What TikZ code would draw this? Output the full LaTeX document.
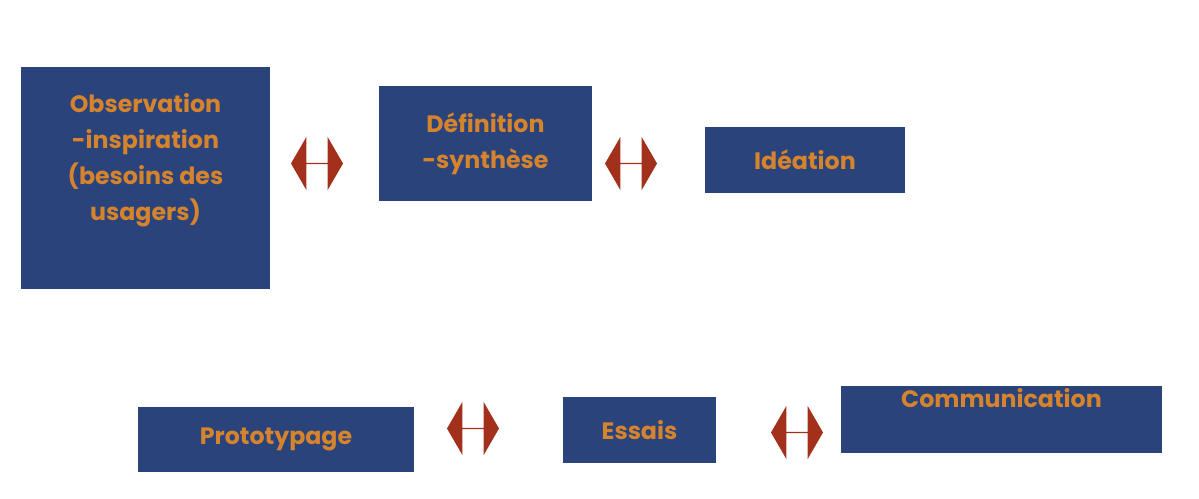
\documentclass[tikz,border=0pt]{standalone}
\usepackage{fontspec}
\setmainfont{Poppins}
\usetikzlibrary{shapes.arrows,positioning}
\definecolor{boxblue}{HTML}{2B437B}
\definecolor{txtorange}{HTML}{D5832C}
\definecolor{arrred}{HTML}{A3301B}
\begin{document}
\begin{tikzpicture}[x=0.02cm,y=-0.02cm]
\tikzstyle{stage}=[rectangle, fill=boxblue, text=txtorange, font=\bfseries\fontsize{13.5}{20.5}\selectfont, align=center, inner sep=0pt]
\tikzstyle{link}=[double arrow, fill=arrred, minimum width=1.06cm, minimum height=1.04cm, double arrow head extend=0.27cm, double arrow tip angle=120, inner sep=0pt]
\useasboundingbox (0,0) rectangle (1199,498);
  % boxes
  \node[stage, minimum width=4.98cm, minimum height=4.44cm] (obs) at (145.5,178) {};
  \node[stage, anchor=center] (obst) at (145.5,160) {Observation\\-inspiration\\(besoins des\\usagers)};
  \node[stage, minimum width=4.26cm, minimum height=2.3cm] (def) at (485.5,143.5) {Définition\\-synthèse};
  \node[stage, minimum width=4cm, minimum height=1.32cm] (idea) at (805,160) {Idéation};
  \node[stage, minimum width=5.52cm, minimum height=1.3cm] (proto) at (276,439.5) {Prototypage};
  \node[stage, minimum width=3.06cm, minimum height=1.32cm] (test) at (639.5,430) {Essais};
  \node[stage, minimum width=6.42cm, minimum height=1.34cm] (comm) at (1001.5,419.5) {Communication\\[-2pt]\strut};
  % arrows
  \node[link] (a1) at (317,163.5) {};
  \node[link] (a2) at (631,163.5) {};
  \node[link] (a3) at (473,428.5) {};
  \node[link] (a4) at (797,432.5) {};
\end{tikzpicture}
\end{document}
